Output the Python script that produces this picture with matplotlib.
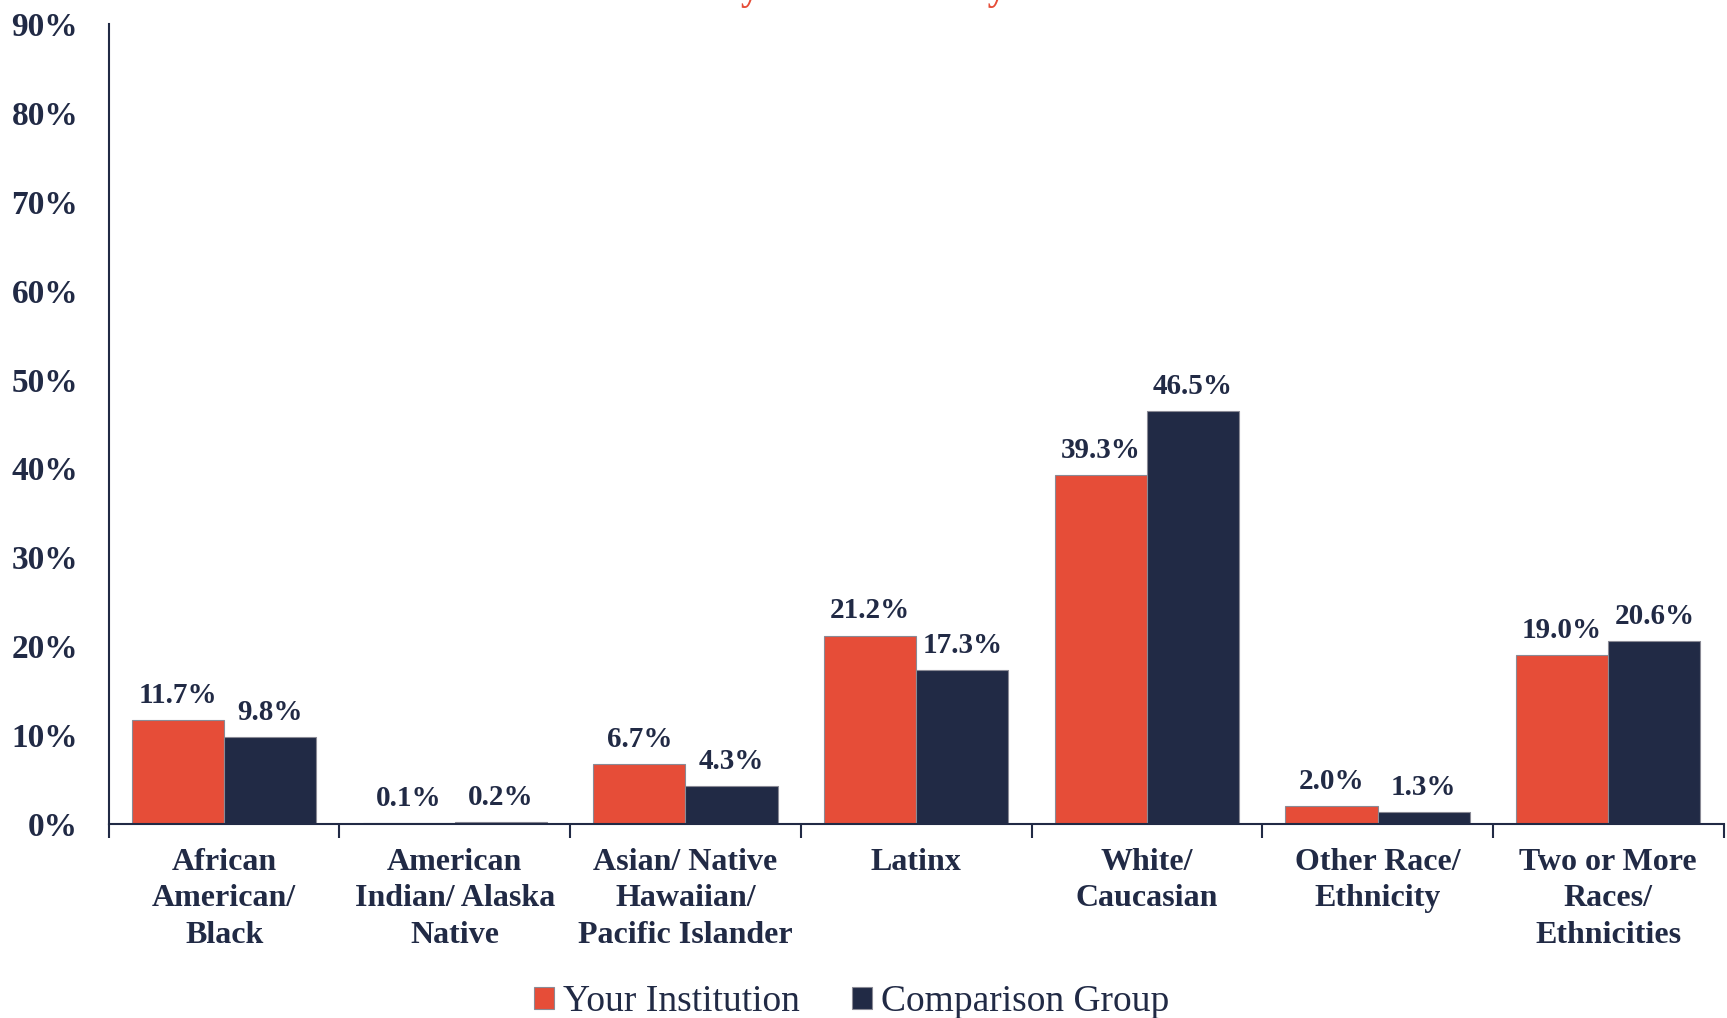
"""
Race/ethnicity breakdown: your institution vs comparison group
"""

import numpy as np
import matplotlib
matplotlib.use("Agg")
import matplotlib.pyplot as plt
from matplotlib.ticker import FuncFormatter

categories = ["African\nAmerican/\nBlack", "American\nIndian/ Alaska\nNative",
              "Asian/ Native\nHawaiian/\nPacific Islander", "Latinx",
              "White/\nCaucasian", "Other Race/\nEthnicity",
              "Two or More\nRaces/\nEthnicities"]
your_institution = [11.7, 0.1, 6.7, 21.2, 39.3, 2.0, 19.0]
comparison_group = [9.8, 0.2, 4.3, 17.3, 46.5, 1.3, 20.6]
series_names = ["Your Institution", "Comparison Group"]

ORANGE = "#e64d38"
NAVY = "#212a45"

plt.rcParams['font.family'] = ['Liberation Serif', 'DejaVu Serif']

fig = plt.figure(figsize=(17.27, 10.18), dpi=100)
ax = fig.add_axes([0.063, 0.1906, 0.935, 0.7858])

x = np.arange(len(categories))
w = 0.4
b1 = ax.bar(x - w / 2, your_institution, w, color=ORANGE, edgecolor="#8a8a95",
            linewidth=0.8, label=series_names[0])
b2 = ax.bar(x + w / 2, comparison_group, w, color=NAVY, edgecolor="#8a8a95",
            linewidth=0.8, label=series_names[1])

for bars in (b1, b2):
    ax.bar_label(bars, labels=["{:.1f}%".format(v) for v in bars.datavalues],
                 padding=8, fontsize=21, fontweight="bold", color=NAVY)

ax.set_xlim(-0.5, len(categories) - 0.5)
ax.set_ylim(0, 90)
ax.set_yticks(np.arange(0, 91, 10))
ax.yaxis.set_major_formatter(FuncFormatter(lambda v, p: "{:.0f}%".format(v)))

# category labels centred, boundary ticks pointing down
ax.set_xticks(x)
ax.set_xticklabels(categories, fontsize=23, fontweight="bold", color=NAVY,
                   linespacing=1.34)
ax.tick_params(axis="x", which="major", length=0, pad=17)
ax.set_xticks(np.arange(-0.5, len(categories)), minor=True)
ax.tick_params(axis="x", which="minor", length=10, width=1.5, color=NAVY,
               direction="out")
ax.tick_params(axis="y", length=0, pad=22, labelsize=24, labelcolor=NAVY)
for lbl in ax.get_yticklabels():
    lbl.set_fontweight("bold")

for side in ("top", "right"):
    ax.spines[side].set_visible(False)
for side in ("left", "bottom"):
    ax.spines[side].set_color(NAVY)
    ax.spines[side].set_linewidth(1.5)

# title sits above the canvas, only the descenders show (as in the source)
fig.text(0.4565, 1.0, "Students by Race/Ethnicity", ha="center", va="baseline",
         fontsize=27, fontweight="bold", color=ORANGE)

fig.legend(loc="center", bbox_to_anchor=(0.493, 0.016), ncol=2,
           frameon=False, fontsize=27, handlelength=0.53, handleheight=0.53,
           handletextpad=0.24, columnspacing=1.4, labelcolor=NAVY, borderpad=0)

plt.savefig("out.png", dpi=100)
